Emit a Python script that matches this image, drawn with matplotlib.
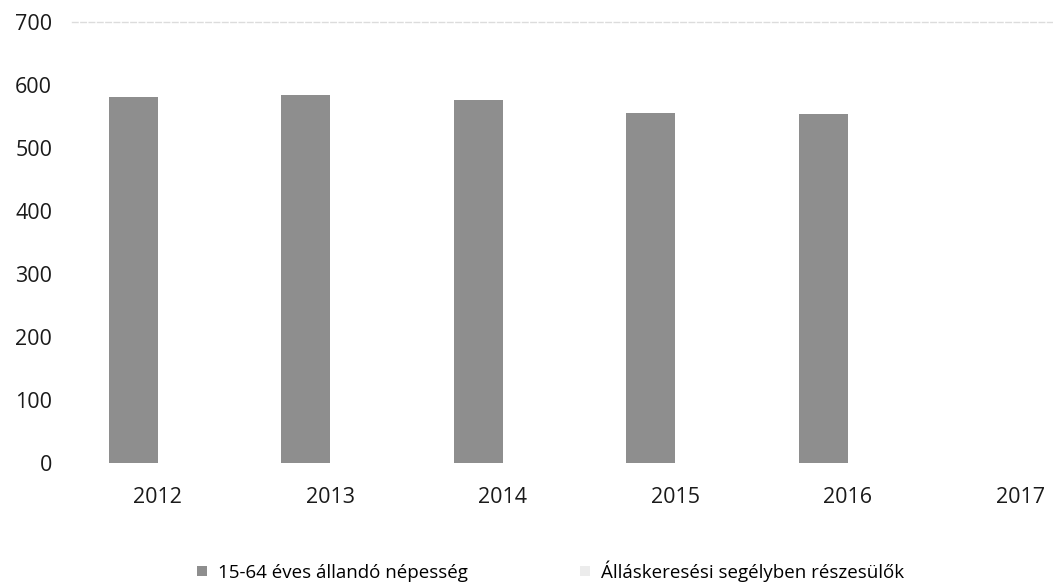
import matplotlib
matplotlib.use('Agg')
import matplotlib.pyplot as plt
import numpy as np

# data
years = ['2012', '2013', '2014', '2015', '2016', '2017']
population = [581, 584, 576, 556, 554, 0]        # 15-64 éves állandó népesség
jobseekers = [0, 0, 0, 0, 0, 0]                  # not visible in the scan
seriesNames = ['15-64 éves állandó népesség', 'Álláskeresési segélyben részesülők']
yTicks = [0, 100, 200, 300, 400, 500, 600, 700]

plt.rcParams['font.family'] = ['Open Sans', 'DejaVu Sans']

fig = plt.figure(figsize=(10.53, 5.85), dpi=100)
ax = fig.add_axes([0.068, 0.2085, 0.932, 0.754])

x = np.arange(len(years))
w = 0.285
ax.bar(x - w / 2, population, width=w, color='#8e8e8e', label=seriesNames[0])
ax.bar(x + w / 2, jobseekers, width=w, color='#ececec', label=seriesNames[1])

ax.set_ylim(0, 700)
ax.set_xlim(-0.5, 5.19)
ax.set_yticks(yTicks)
ax.set_xticks(x)
ax.set_xticklabels(years)
ax.tick_params(axis='y', length=0, pad=14, labelsize=15.5, labelcolor='#1a1a1a')
ax.tick_params(axis='x', length=0, pad=17, labelsize=15.5, labelcolor='#1a1a1a')

for side in ['left', 'right', 'bottom']:
    ax.spines[side].set_visible(False)
ax.spines['top'].set_color('#dcdcdc')
ax.spines['top'].set_linestyle((0, (4, 2)))
ax.spines['top'].set_linewidth(1.0)

handles, labels = ax.get_legend_handles_labels()
fig.legend(handles, labels, loc='center', bbox_to_anchor=(0.523, 0.024), ncol=2,
           frameon=False, fontsize=13.5, handlelength=0.5, handleheight=0.5,
           handletextpad=0.6, columnspacing=6.0)

plt.savefig('out.png', dpi=100)
